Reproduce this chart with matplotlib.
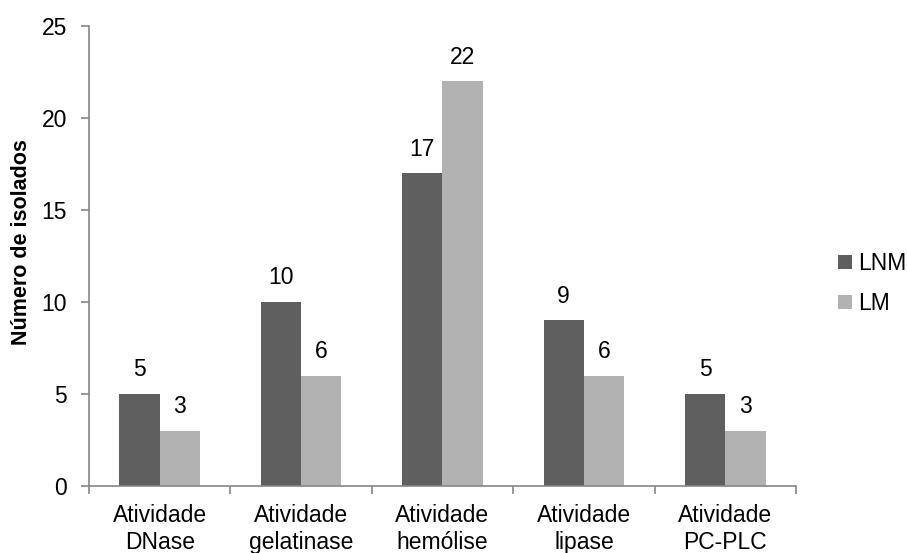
import numpy as np
import matplotlib.pyplot as plt
from matplotlib.ticker import FixedLocator

plt.rcParams["font.family"] = ["Liberation Sans", "DejaVu Sans"]
fs = 16.5
plt.rcParams["font.size"] = fs

categories = ["Atividade\nDNase", "Atividade\ngelatinase", "Atividade\nhemólise",
              "Atividade\nlipase", "Atividade\nPC-PLC"]
lnm = [5, 10, 17, 9, 5]
lm = [3, 6, 22, 6, 3]
yticks = [0, 5, 10, 15, 20, 25]

axis_gray = "#868686"
dark = "#5f5f5f"
light = "#b2b2b2"

fig = plt.figure(figsize=(9.07, 5.53), dpi=100)
ax = fig.add_axes([0.0981, 0.1212, 0.7795, 0.8318])

x = np.arange(len(categories))
w = 0.285
b1 = ax.bar(x - w / 2, lnm, w, color=dark, label="LNM")
b2 = ax.bar(x + w / 2, lm, w, color=light, label="LM")

for bars, vals in ((b1, lnm), (b2, lm)):
    for r, v in zip(bars, vals):
        ax.annotate(str(v), (r.get_x() + r.get_width() / 2, v),
                    xytext=(0, 9), textcoords="offset points",
                    ha="center", va="bottom", fontsize=fs)

ax.set_xlim(-0.5, len(categories) - 0.5)
ax.set_ylim(0, 25)
ax.set_yticks(yticks)

ax.set_xticks(x)
ax.set_xticklabels(categories, linespacing=1.2)
ax.xaxis.set_minor_locator(FixedLocator(np.arange(len(categories) + 1) - 0.5))
ax.tick_params(axis="x", which="major", length=0, pad=13)
ax.tick_params(axis="x", which="minor", length=6, color=axis_gray, width=1.2)
ax.tick_params(axis="y", length=6, color=axis_gray, width=1.2, pad=10)

for s in ("top", "right"):
    ax.spines[s].set_visible(False)
for s in ("left", "bottom"):
    ax.spines[s].set_color(axis_gray)
    ax.spines[s].set_linewidth(1.2)

ax.set_ylabel("Número de isolados", fontweight="bold", fontsize=15.5)
ax.yaxis.set_label_coords(-0.08, 0.53)

ax.legend(loc="center left", bbox_to_anchor=(1.03, 0.44), frameon=False,
          handlelength=0.6, handleheight=0.6, handletextpad=0.3,
          labelspacing=0.75, fontsize=fs)

fig.savefig("out.png", dpi=100)
